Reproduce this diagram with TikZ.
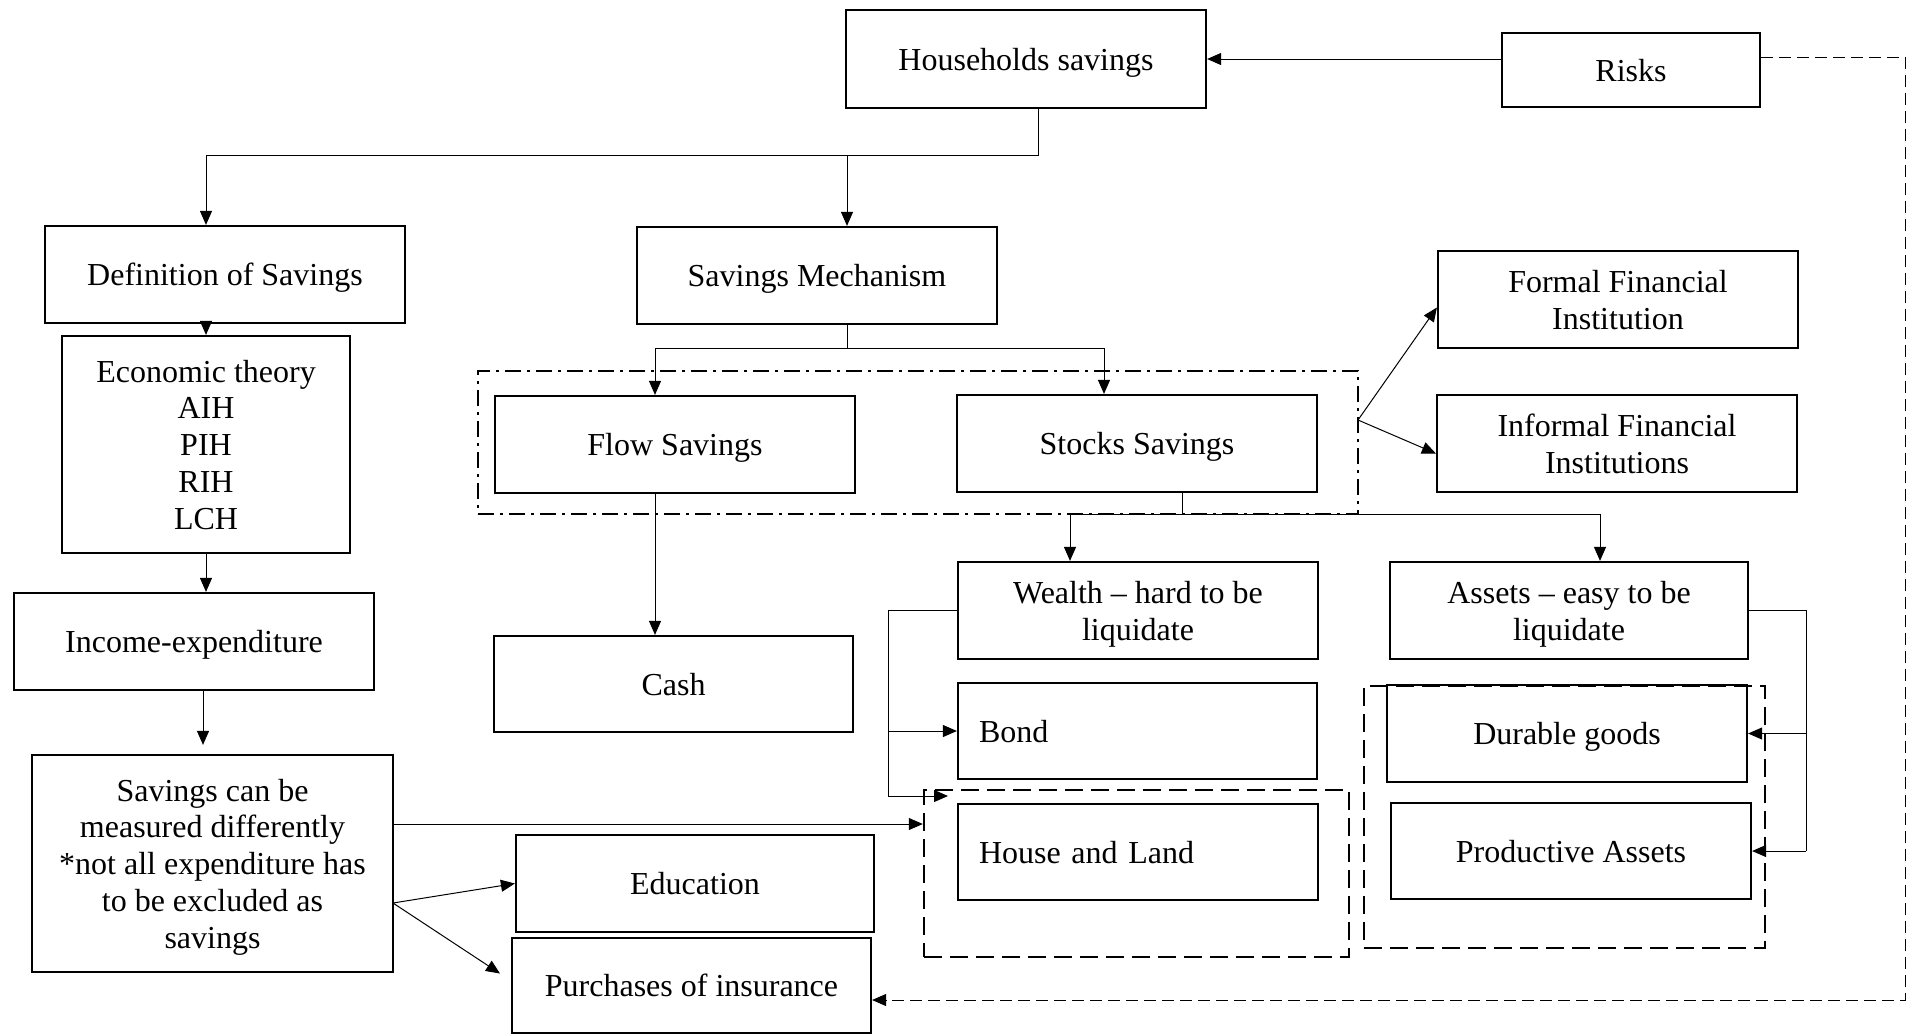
\documentclass[tikz,border=0pt]{standalone}
\usepackage{fontspec}
\setmainfont{Liberation Serif}
\usetikzlibrary{arrows.meta,calc}
\begin{document}
\begin{tikzpicture}[x=0.5pt,y=-0.5pt,
  box/.style={draw, line width=1.1pt, inner sep=0pt, align=center, text depth=0pt, font=\fontsize{16}{18.4}\selectfont},
  lbox/.style={box, align=left, inner xsep=10.5pt, text width=#1},
  grpdd/.style={draw, line width=1pt, dash pattern=on 8pt off 3pt on 1.5pt off 3pt, inner sep=0pt},
  grpd/.style={draw, line width=1.2pt, dash pattern=on 9pt off 4pt, inner sep=0pt},
  line/.style={line width=0.5pt},
  arr/.style={line width=0.5pt, -{Triangle[length=7pt,width=6pt]}},
  darr/.style={line width=0.5pt, dash pattern=on 6pt off 3pt, -{Triangle[length=7pt,width=6pt]}},
]
\useasboundingbox (0,0) rectangle (1917,1035);

% group frames
\node[grpdd, minimum width=440pt, minimum height=71.5pt] (g1) at (918,442.5) {};
\node[grpd, minimum width=212.5pt, minimum height=83.5pt] (g2) at (1136.5,873.5) {};
\node[grpd, minimum width=200.5pt, minimum height=131pt] (g3) at (1564.5,817) {};

% boxes
\node[box, minimum width=180pt, minimum height=49pt] (hh) at (1026,59) {Households savings};
\node[box, minimum width=129pt, minimum height=37pt] (risks) at (1631,70) {Risks};
\node[box, minimum width=180pt, minimum height=48.5pt] (def) at (225,274.5) {Definition of Savings};
\node[box, minimum width=180pt, minimum height=48.5pt] (mech) at (817,275.5) {Savings Mechanism};
\node[box, minimum width=144pt, minimum height=108.5pt] (econ) at (206,444.5) {Economic theory\\AIH\\PIH\\RIH\\LCH};
\node[box, minimum width=180pt, minimum height=48.5pt] (income) at (194,641.5) {Income-expenditure};
\node[box, minimum width=180.5pt, minimum height=108.5pt] (meas) at (212.5,863.5) {Savings can be\\measured differently\\*not all expenditure has\\to be excluded as\\savings};
\node[box, minimum width=180pt, minimum height=48.5pt] (flow) at (675,444.5) {Flow Savings};
\node[box, minimum width=180pt, minimum height=48.5pt] (stock) at (1137,443.5) {Stocks Savings};
\node[box, minimum width=180pt, minimum height=48.5pt] (formal) at (1618,299.5) {Formal Financial\\Institution};
\node[box, minimum width=180pt, minimum height=48.5pt] (informal) at (1617,443.5) {Informal Financial\\Institutions};
\node[box, minimum width=179.5pt, minimum height=48pt] (cash) at (673.5,684) {Cash};
\node[box, minimum width=180pt, minimum height=48.5pt] (wealth) at (1138,610.5) {Wealth -- hard to be\\liquidate};
\node[box, minimum width=179pt, minimum height=48.5pt] (assets) at (1569,610.5) {Assets -- easy to be\\liquidate};
\node[lbox=158.5pt, minimum width=179.5pt, minimum height=48pt] (bond) at (1137.5,731) {Bond};
\node[lbox=159pt, minimum width=180pt, minimum height=48pt] (house) at (1138,852) {House and Land};
\node[box, minimum width=180pt, minimum height=48.5pt] (durable) at (1567,733.5) {Durable goods};
\node[box, minimum width=180pt, minimum height=48pt] (prod) at (1571,851) {Productive Assets};
\node[box, minimum width=179pt, minimum height=48.5pt] (edu) at (695,883.5) {Education};
\node[box, minimum width=179.5pt, minimum height=47.5pt] (ins) at (691.5,985.5) {Purchases of insurance};

% junction coordinates
\coordinate (j1) at (1038,155);
\coordinate (j1l) at (206,155);
\coordinate (j1m) at (847,155);
\coordinate (j2) at (847,348);
\coordinate (j2l) at (655,348);
\coordinate (j2r) at (1104,348);
\coordinate (gj) at (1358,420);
\coordinate (j3) at (1182,514);
\coordinate (j3l) at (1070,514);
\coordinate (j3r) at (1600,514);
\coordinate (wl) at (888,610.5);
\coordinate (wb) at (888,796);
\coordinate (wt) at (948,796);
\coordinate (ja) at (1806,610.5);
\coordinate (jb) at (1806,851);
\coordinate (m1) at (380,824);
\coordinate (ms) at (393,903);
\coordinate (inst) at (500,973.5);
\coordinate (r1) at (1905,57);
\coordinate (r2) at (1905,1000);
\coordinate (xinc) at (203,0);

% connectors
\draw[line] (hh.south -| j1) -- (j1) -- (j1l);
\draw[arr] (j1l) -- (def.north -| j1l);
\draw[arr] (j1m) -- (mech.north -| j1m);
\draw[arr] (risks.west |- hh.east) -- (hh.east);
\draw[arr] (def.south -| econ.north) -- (econ.north);
\draw[arr] (econ.south) -- (income.north -| econ.south);
\draw[arr, shorten >=4.5pt] (income.south -| xinc) -- (meas.north -| xinc);
\draw[line] (mech.south -| j2) -- (j2);
\draw[line] (j2l) -- (j2r);
\draw[arr] (j2l) -- (flow.north -| j2l);
\draw[arr] (j2r) -- (stock.north -| j2r);
\draw[arr] (flow.south -| j2l) -- (cash.north -| j2l);
\draw[arr] (gj) -- ([yshift=-4pt]formal.west);
\draw[arr] (gj) -- ([yshift=-5pt]informal.west);
\draw[line] (stock.south -| j3) -- (j3);
\draw[line] (j3l) -- (j3r);
\draw[arr] (j3l) -- (wealth.north -| j3l);
\draw[arr] (j3r) -- (assets.north -| j3r);
\draw[line] (wealth.west) -- (wl) -- (wb);
\draw[arr] (wl |- bond.west) -- (bond.west);
\draw[arr] (wb) -- (wt);
\draw[line] (assets.east) -- (ja) -- (jb);
\draw[arr] (ja |- durable.east) -- (durable.east);
\draw[arr] (jb |- prod.east) -- (prod.east);
\draw[arr] (meas.east |- m1) -- (g2.west |- m1);
\draw[arr] (ms) -- (edu.west);
\draw[arr] (ms) -- (inst);
\draw[darr] (risks.east |- r1) -- (r1) -- (r2) -- (ins.east |- r2);
\end{tikzpicture}
\end{document}
